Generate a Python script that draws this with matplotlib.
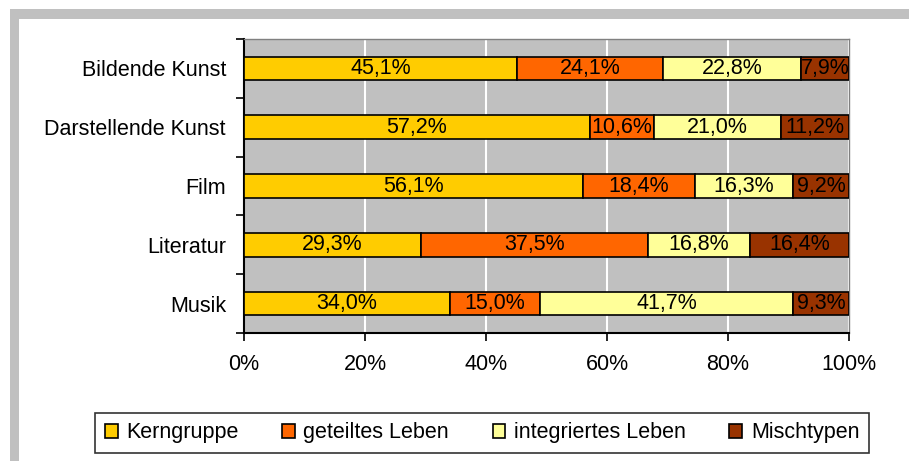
import matplotlib
matplotlib.use("Agg")
import matplotlib.pyplot as plt
from matplotlib.patches import Rectangle, Patch
import numpy as np

categories = ["Bildende Kunst", "Darstellende Kunst", "Film", "Literatur", "Musik"]
series_names = ["Kerngruppe", "geteiltes Leben", "integriertes Leben", "Mischtypen"]
kerngruppe = [45.1, 57.2, 56.1, 29.3, 34.0]
geteilt = [24.1, 10.6, 18.4, 37.5, 15.0]
integriert = [22.8, 21.0, 16.3, 16.8, 41.7]
misch = [7.9, 11.2, 9.2, 16.4, 9.3]
colors = ["#FFCC00", "#FF6600", "#FFFF99", "#993300"]
xticks = [0, 20, 40, 60, 80, 100]
xticklabels = ["0%", "20%", "40%", "60%", "80%", "100%"]

plt.rcParams['font.family'] = ['Liberation Sans', 'DejaVu Sans']
FS = 15.5

fig = plt.figure(figsize=(9.09, 4.61), dpi=100)
fig.patch.set_facecolor("white")
# gray frame (top and left)
fig.patches.append(Rectangle((10/909, 1-19/461), 1-10/909, 10/461, transform=fig.transFigure,
                             facecolor="#C0C0C0", edgecolor="none", zorder=0))
fig.patches.append(Rectangle((10/909, 0), 9/909, 1-10/461, transform=fig.transFigure,
                             facecolor="#C0C0C0", edgecolor="none", zorder=0))

ax = fig.add_axes([244/909, 1-333/461, 605/909, 294/461])
ax.set_facecolor("#C0C0C0")

data = np.array([kerngruppe, geteilt, integriert, misch])
totals = data.sum(axis=0)
norm = data / totals * 100
y = np.arange(len(categories))
left = np.zeros(len(categories))
for i, name in enumerate(series_names):
    ax.barh(y, norm[i], left=left, height=0.4, color=colors[i], edgecolor="black",
            linewidth=1.2, label=name, zorder=3)
    for j in range(len(categories)):
        lbl = f"{data[i][j]:.1f}%".replace(".", ",")
        ax.text(left[j] + norm[i][j] / 2, y[j], lbl, ha="center", va="center",
                fontsize=FS, zorder=4, color="black")
    left += norm[i]

ax.set_xlim(0, 100)
ax.set_ylim(len(categories) - 0.5, -0.5)
ax.set_xticks(xticks)
ax.set_xticklabels(xticklabels, fontsize=FS)
ax.xaxis.grid(True, color="white", linewidth=1.5, zorder=1)
ax.set_axisbelow(True)

ax.set_yticks(y)
ax.set_yticklabels(categories, fontsize=FS)
ax.tick_params(axis="y", which="major", length=0, pad=13)
ax.set_yticks(np.arange(-0.5, len(categories) + 0.5, 1), minor=True)
ax.tick_params(axis="y", which="minor", length=6, width=1.2, direction="out")
ax.tick_params(axis="x", length=6, width=1.2, direction="out", pad=9)

for s in ["left", "bottom"]:
    ax.spines[s].set_color("black")
    ax.spines[s].set_linewidth(1.5)
for s in ["top", "right"]:
    ax.spines[s].set_color("#808080")
    ax.spines[s].set_linewidth(1.0)

handles = [Patch(facecolor=c, edgecolor="black", linewidth=1.2) for c in colors]
leg = fig.legend(handles, series_names, loc="lower left",
                 bbox_to_anchor=(95/909, 1-453/461, 774/909, 42/461),
                 ncol=4, mode="expand", fontsize=FS, frameon=True, fancybox=False,
                 edgecolor="black", handlelength=0.6, handleheight=0.6,
                 handletextpad=0.4, borderaxespad=0, borderpad=0.45)
leg.get_frame().set_linewidth(1.2)

fig.savefig("out.png", dpi=100)
